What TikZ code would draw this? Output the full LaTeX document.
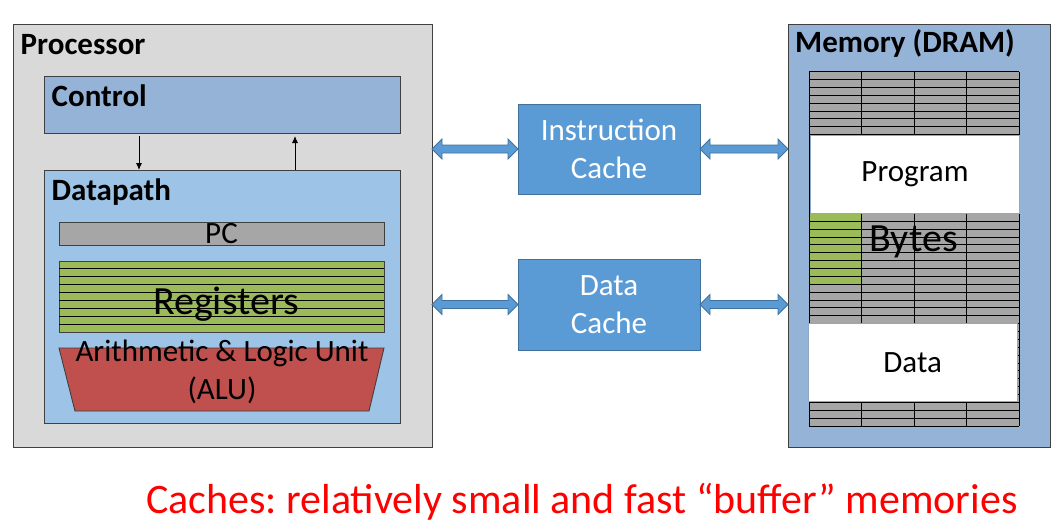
\documentclass[tikz,border=0pt]{standalone}
\usepackage{fontspec}
\setmainfont{Carlito}
\usepackage{tikz}
\usetikzlibrary{calc}
\usetikzlibrary{arrows.meta}
\usetikzlibrary{positioning}
\usepackage{color}
\frenchspacing

\definecolor{procgray}{HTML}{D9D9D9}
\definecolor{ctrlblue}{HTML}{95B3D7}
\definecolor{pathblue}{HTML}{9DC3E6}
\definecolor{cacheblue}{HTML}{5B9BD5}
\definecolor{cacheedge}{HTML}{41719C}
\definecolor{cellgray}{HTML}{A6A6A6}
\definecolor{reggreen}{HTML}{9BBB59}
\definecolor{alured}{HTML}{C0504D}

\tikzset{
    box/.style={draw=black!75,line width=0.9pt,inner sep=0pt,outer sep=0pt,anchor=north west},
    boxtitle/.style={anchor=base west,inner sep=0pt,font=\fontsize{31}{36}\selectfont\bfseries},
    boxtext/.style={inner sep=0pt,font=\fontsize{31}{36}\selectfont},
    bigtext/.style={inner sep=0pt,anchor=base,font=\fontsize{40}{48}\selectfont},
    cachebox/.style={box,draw=cacheedge,fill=cacheblue,text=white,align=center,font=\fontsize{31}{38.4}\selectfont},
    bus/.style={draw=cacheedge,fill=cacheblue,line width=0.8pt},
}

% block double arrow from #1 to #2
\newcommand{\busarrow}[2]{%
    \path[bus] (#1) -- ++(10,-10) -- ++(0,6) -- ($(#2)+(-10,-4)$) -- ++(0,-6)
        -- (#2) -- ++(-10,10) -- ++(0,-6) -- ($(#1)+(10,4)$) -- ++(0,6) -- cycle;}

\begin{document}
\begin{tikzpicture}[x=1pt,y=-1pt]
    \useasboundingbox (0,0) rectangle (1058,527);

    % processor
    \node[box,fill=procgray,minimum width=419pt,minimum height=423pt] (proc) at (13,24) {};
    \node[boxtitle] (proctitle) at (20.5,55) {Processor};
    \node[box,fill=ctrlblue,minimum width=356pt,minimum height=57pt] (control) at (44,76) {};
    \node[boxtitle] (ctrltitle) at (51.5,106.5) {Control};
    \node[box,fill=pathblue,minimum width=356pt,minimum height=253pt] (datapath) at (44,170) {};
    \node[boxtitle] (pathtitle) at (51.5,200) {Datapath};
    \draw[line width=0.9pt,-{Latex[length=7pt,width=6pt]}] ([xshift=95pt,yshift=-3pt]control.south west) -- ([xshift=95pt]datapath.north west);
    \draw[line width=0.9pt,-{Latex[length=7pt,width=6pt]}] ([xshift=251pt]datapath.north west) -- ([xshift=251pt,yshift=-3pt]control.south west);

    \node[box,fill=cellgray,minimum width=325pt,minimum height=23pt,boxtext] (pc) at (59,222) {PC};
    \node[box,fill=reggreen,minimum width=325pt,minimum height=71pt] (regs) at (59,261) {};
    \foreach \i in {1,...,8}
        \draw[line width=0.9pt] ($(regs.north west)+(0,\i*7.89)$) -- ($(regs.north east)+(0,\i*7.89)$);
    \node[bigtext] (regtext) at (226,314) {Registers};
    \draw[draw=black!75,line width=0.9pt,fill=alured] (59,348) -- (384,348) -- (369,411) -- (75,411) -- cycle;
    \node[boxtext,anchor=base] (alutext) at (222,361.7) {Arithmetic \& Logic Unit};
    \node[boxtext,anchor=base] (aluname) at (222,399) {(ALU)};

    % caches
    \node[cachebox,minimum width=182pt,minimum height=90pt] (icache) at (518,104) {Instruction\\Cache};
    \node[cachebox,minimum width=182pt,minimum height=91pt] (dcache) at (518,259) {Data\\Cache};

    % memory
    \node[box,fill=ctrlblue,minimum width=262pt,minimum height=423pt] (mem) at (788,24) {};
    \node[boxtitle] (memtitle) at (795,53) {Memory (DRAM)};
    \fill[cellgray] (809,71.7) rectangle (1019,426);
    \fill[reggreen] (809,213.4) rectangle (861.5,284.2);
    \foreach \i in {0,...,45}
        \draw[line width=1pt] (809,{71.7+\i*7.874}) -- (1019,{71.7+\i*7.874});
    \foreach \x in {809,861.5,914,966.5,1019}
        \draw[line width=1pt] (\x,71.7) -- (\x,426);
    \node[box,draw=cacheedge!60,line width=0.5pt,fill=white,minimum width=208.6pt,minimum height=78.5pt,boxtext] (prog) at (810.7,134.9) {Program};
    \node[bigtext] (bytes) at (913.5,251) {Bytes};
    \node[box,draw=cacheedge!60,line width=0.5pt,fill=white,minimum width=209.3pt,minimum height=78.3pt,boxtext] (dat) at (808,323.2) {Data};

    % buses
    \busarrow{proc.east |- icache.west}{icache.west}
    \busarrow{icache.east}{mem.west |- icache.east}
    \busarrow{proc.east |- dcache.west}{dcache.west}
    \busarrow{dcache.east}{mem.west |- dcache.east}

    \node[anchor=base west,inner sep=0pt,text=red,font=\fontsize{42}{50}\selectfont] (caption) at (146,513) {Caches: relatively small and fast “buffer” memories};
\end{tikzpicture}
\end{document}
